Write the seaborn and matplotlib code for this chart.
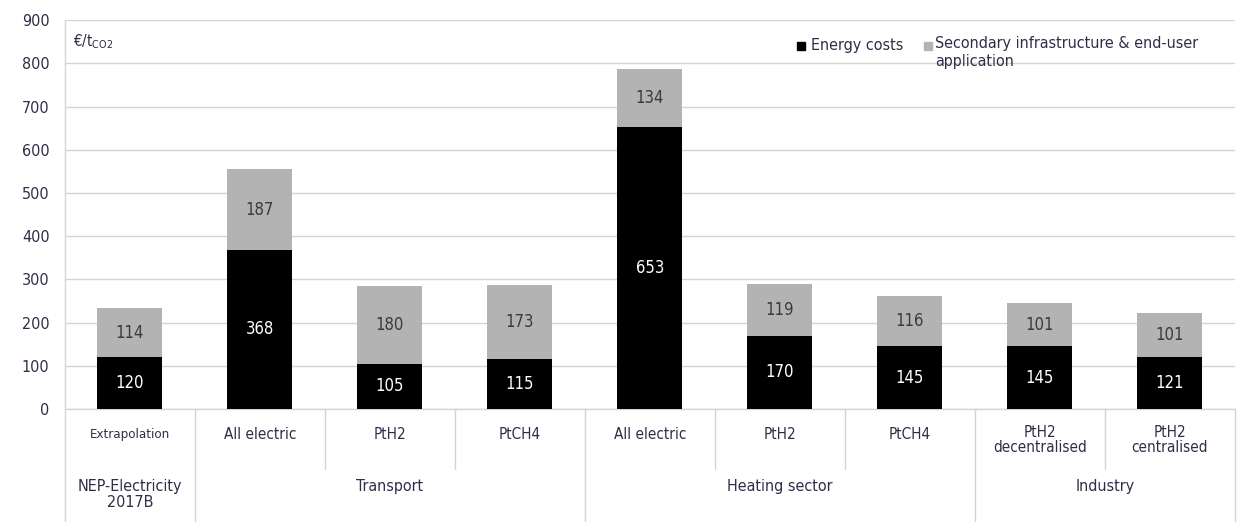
import matplotlib
matplotlib.use("Agg")
import matplotlib.pyplot as plt
import matplotlib.transforms as mtransforms
import seaborn as sns
import pandas as pd

# ---- data ----
groups = ["NEP-Electricity\n2017B", "Transport", "Heating sector", "Industry"]
group_sizes = [1, 3, 3, 2]
categories = ["Extrapolation", "All electric", "PtH2", "PtCH4",
              "All electric", "PtH2", "PtCH4",
              "PtH2\ndecentralised", "PtH2\ncentralised"]
energy_costs = [120, 368, 105, 115, 653, 170, 145, 145, 121]
secondary = [114, 187, 180, 173, 134, 119, 116, 101, 101]
series_names = ["Energy costs", "Secondary infrastructure & end-user\napplication"]
y_ticks = [0, 100, 200, 300, 400, 500, 600, 700, 800, 900]
unit_label = "€/t$_{\\rm CO2}$"

sns.set_theme(style="white")
plt.rcParams['font.family'] = ['DejaVu Sans']
plt.rcParams['font.stretch'] = 'condensed'

keys = [f"c{i}" for i in range(len(categories))]
df = pd.DataFrame({"key": keys, "energy": energy_costs,
                   "total": [e + s for e, s in zip(energy_costs, secondary)]})

fig = plt.figure(figsize=(12.46, 5.22), dpi=100)
ax = fig.add_axes([0.052, 0.2165, 0.939, 0.745])

black = "#000000"
gray = "#b3b3b3"
txt = "#2e2e48"

sns.barplot(data=df, x="key", y="total", order=keys, color=gray, width=0.5,
            saturation=1, ax=ax, zorder=3, linewidth=0)
sns.barplot(data=df, x="key", y="energy", order=keys, color=black, width=0.5,
            saturation=1, ax=ax, zorder=4, linewidth=0)

ax.set_ylim(0, 900)
ax.set_xlim(-0.5, len(categories) - 0.5)
ax.set_yticks(y_ticks)
ax.set_yticklabels([str(t) for t in y_ticks], fontsize=11.5, color=txt)
ax.tick_params(axis="y", length=0, pad=11)
ax.set_xticks([])
ax.set_xlabel("")
ax.set_ylabel("")
ax.yaxis.grid(True, color="#d4d4d4", linewidth=1.0, zorder=0)
ax.set_axisbelow(True)
for s in ["top", "right", "bottom"]:
    ax.spines[s].set_visible(False)
ax.spines["left"].set_color("#d4d4d4")
ax.spines["left"].set_linewidth(1.0)

# value labels
for i, (e, s) in enumerate(zip(energy_costs, secondary)):
    ax.text(i, e / 2, str(e), ha="center", va="center", color="white", fontsize=12, zorder=5)
    ax.text(i, e + s / 2, str(s), ha="center", va="center", color="#3a3a3a", fontsize=12, zorder=5)

trans = mtransforms.blended_transform_factory(ax.transData, ax.transAxes)
# category labels
for i, c in enumerate(categories):
    fs = 9.5 if c == "Extrapolation" else 11
    ax.text(i, -0.065 if "\n" not in c else -0.04, c, transform=trans, ha="center",
            va="center" if "\n" not in c else "top", fontsize=fs, color=txt,
            linespacing=1.0)

# group labels and separators
start = 0
bounds = [-0.5]
for g, n in zip(groups, group_sizes):
    center = start + (n - 1) / 2
    ax.text(center, -0.2 if "\n" not in g else -0.18, g, transform=trans, ha="center",
            va="center" if "\n" not in g else "top", fontsize=11.5, color=txt, linespacing=1.1)
    start += n
    bounds.append(start - 0.5)

for j in range(len(categories) + 1):
    x = j - 0.5
    y_end = -0.29 if x in bounds else -0.155
    ax.plot([x, x], [0, y_end], transform=trans, color="#d4d4d4", linewidth=1.0,
            clip_on=False, zorder=1)
ax.plot([-0.5, len(categories) - 0.5], [0, 0], transform=trans, color="#d4d4d4",
        linewidth=1.0, clip_on=False, zorder=1)

# unit label
ax.text(0.007, 0.945, unit_label, transform=ax.transAxes, ha="left", va="center",
        fontsize=11, color=txt)

# legend (manual, anchored in axes coordinates)
ax.plot([0.6295], [0.934], marker="s", markersize=6, color=black, linestyle="none",
        transform=ax.transAxes, clip_on=False)
ax.text(0.6375, 0.934, series_names[0], transform=ax.transAxes, ha="left", va="center",
        fontsize=11.5, color=txt)
ax.plot([0.7375], [0.934], marker="s", markersize=6, color=gray, linestyle="none",
        transform=ax.transAxes, clip_on=False)
ax.text(0.744, 0.958, series_names[1], transform=ax.transAxes, ha="left", va="top",
        fontsize=11.5, color=txt, linespacing=1.25)

fig.savefig("out.png", dpi=100, facecolor="white")
